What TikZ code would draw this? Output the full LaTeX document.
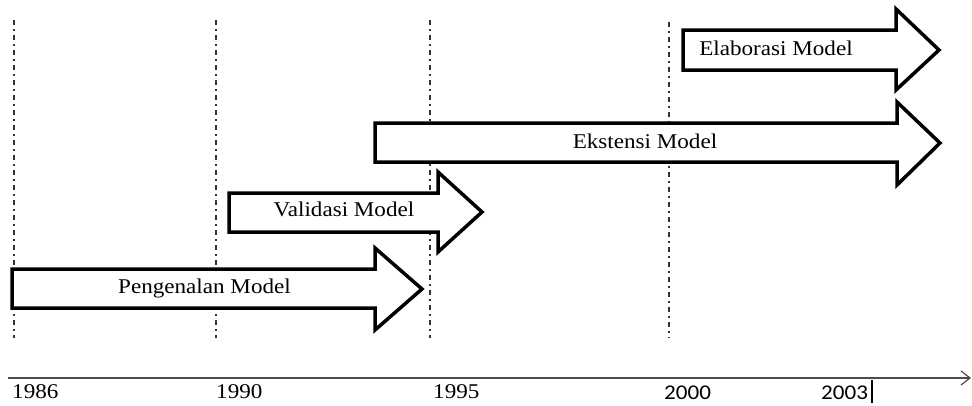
\documentclass[tikz,border=0pt]{standalone}
\usepackage{fontspec}
\usepackage{graphicx}
\setmainfont{Liberation Serif}
\newfontfamily\carlito{Carlito}
\usetikzlibrary{arrows.meta}
\newcommand\wtext[1]{\scalebox{1.1}[1]{#1}}
\tikzset{
  bigarrow/.style={draw=black, fill=white, line width=3.5pt, line join=miter, miter limit=10},
  guide/.style={draw=black!80, line width=1.5pt, dash pattern=on 5pt off 4pt on 1.5pt off 4.5pt},
  lbl/.style={inner sep=0pt, anchor=base, font=\fontsize{21}{25}\selectfont},
  yr/.style={inner sep=0pt, anchor=base west, font=\fontsize{21}{25}\selectfont},
  axisline/.style={draw=black!70, line width=1.5pt, -{Straight Barb[length=9pt,width=14pt,line width=1.2pt]}}
}
\begin{document}
\begin{tikzpicture}[x=1pt,y=-1pt]
\useasboundingbox (0,0) rectangle (972,405);
% guide lines
\draw[guide] (14,20) -- (14,338);
\draw[guide] (216,20) -- (216,338);
\draw[guide] (430,20) -- (430,338);
\draw[guide] (669,22) -- (669,338);
% arrows
\path[bigarrow] (12,269) -- (375,269) -- (375,248) -- (422,289) -- (375,330) -- (375,308) -- (12,308) -- cycle;
\path[bigarrow] (229,193) -- (438,193) -- (438,172) -- (482,212) -- (438,252) -- (438,232) -- (229,232) -- cycle;
\path[bigarrow] (375,123) -- (897,123) -- (897,102) -- (940,143) -- (897,185) -- (897,162) -- (375,162) -- cycle;
\path[bigarrow] (683,30) -- (896,30) -- (896,9) -- (939,50) -- (896,90) -- (896,70) -- (683,70) -- cycle;
% labels
\node[lbl] (t1) at (204.5,293) {\wtext{Pengenalan Model}};
\node[lbl] (t2) at (344,216.5) {\wtext{Validasi Model}};
\node[lbl] (t3) at (645,148) {\wtext{Ekstensi Model}};
\node[lbl] (t4) at (776,55) {\wtext{Elaborasi Model}};
% axis
\coordinate (axL) at (8,378);
\coordinate (axR) at (971,378);
\draw[axisline] (axL) -- (axR);
\node[yr] (y1) at (12,398) {\wtext{1986}};
\node[yr] (y2) at (216,398) {\wtext{1990}};
\node[yr] (y3) at (433,398) {\wtext{1995}};
\node[yr] (y4) at (664,399) {\carlito\wtext{2000}};
\node[yr] (y5) at (821,399) {\carlito\wtext{2003}};
\draw[line width=2pt] (872,380) -- (872,403);
\end{tikzpicture}
\end{document}
